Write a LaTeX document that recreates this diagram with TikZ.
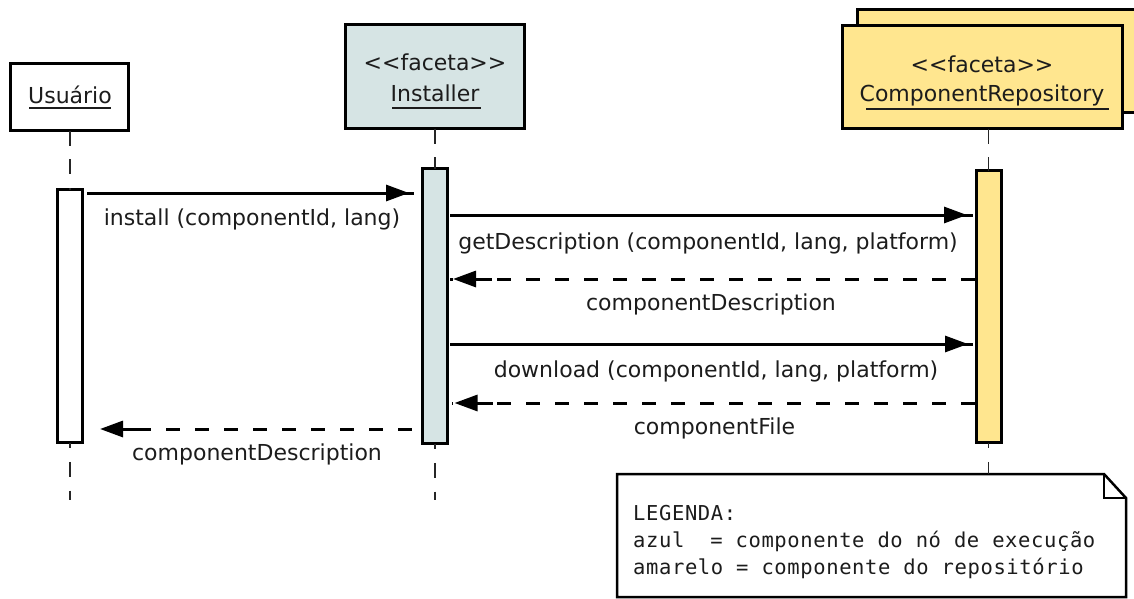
\documentclass[tikz,border=0pt]{standalone}
\usepackage{fontspec}
\newfontfamily\diagfont{DejaVu Sans}
\newfontfamily\legendmono[LetterSpace=3]{DejaVu Sans Mono}
\usetikzlibrary{arrows.meta,calc}

\definecolor{facetblue}{RGB}{214,228,228}
\definecolor{repoyellow}{RGB}{255,230,143}
\definecolor{ink}{RGB}{28,28,28}

\tikzset{
  objbox/.style={draw=black,line width=3pt,outer sep=0pt,inner sep=0pt},
  actbar/.style={draw=black,line width=3pt,minimum width=25pt,outer sep=0pt,inner sep=0pt},
  lifeline/.style={draw=black!85,line width=1.8pt,dash pattern=on 15pt off 13.75pt},
  callline/.style={line width=3pt},
  retline/.style={line width=3pt,dash pattern=on 14pt off 15pt},
  tiphead/.style={line width=3pt,-{Triangle[length=23pt,width=16pt]}},
  lbl/.style={font=\diagfont\fontsize{22}{26}\selectfont,text=ink,inner sep=0pt,anchor=base},
  uline/.style={line width=1.8pt,draw=ink},
  legendtxt/.style={font=\legendmono\fontsize{20.5}{26}\selectfont,text=ink,inner sep=0pt,anchor=base west},
}

\begin{document}
\begin{tikzpicture}[x=1pt,y=-1pt]
\useasboundingbox (0,0) rectangle (1134,599);
\clip (0,0) rectangle (1134,599);

% ---- object headers ----
\node[objbox,fill=white,minimum width=118pt,minimum height=67pt] (boxU) at (69.5,97) {};
\node[objbox,fill=facetblue,minimum width=179pt,minimum height=104pt] (boxI) at (435,76.5) {};
% the stacked back sheet runs past the right edge of the page
\node[objbox,fill=repoyellow,minimum width=400pt,minimum height=103pt] (boxCback) at (1057.5,61) {};
\node[objbox,fill=repoyellow,minimum width=280pt,minimum height=103pt] (boxC) at (982.5,77) {};

\node[lbl] (tU) at (70,103) {Usuário};
\draw[uline] (29,108) -- (111,108);
\node[lbl] (sI) at (435,71) {<<faceta>>};
\node[lbl] (tI) at (435,102) {Installer};
\draw[uline] (392,108) -- (481,108);
\node[lbl] (sC) at (982,73) {<<faceta>>};
\node[lbl] (tC) at (982,102) {ComponentRepository};
\draw[uline] (866,109) -- (1109,109);

% ---- activation bars ----
\node[actbar,fill=white,minimum height=253pt] (actU) at (70,316) {};
\node[actbar,fill=facetblue,minimum height=275pt] (actI) at (435,306) {};
\node[actbar,fill=repoyellow,minimum height=272pt] (actC) at (988.5,306.5) {};

% ---- legend note ----
\node[minimum width=509pt,minimum height=123pt,inner sep=0pt,outer sep=0pt] (legend) at (871.5,535.5) {};
\draw[line width=2.5pt,fill=white]
  (legend.north west) -- ($(legend.north east)+(-22,0)$) -- ($(legend.north east)+(0,24)$)
  -- (legend.south east) -- (legend.south west) -- cycle;
\draw[line width=1.8pt] ($(legend.north east)+(-22,0)$) -- ++(0,24) -- ++(22,0);
\node[legendtxt] (legA) at (633,520) {LEGENDA:};
\node[legendtxt] (legB) at (633,547) {azul\ \ = componente do nó de execução};
\node[legendtxt] (legC) at (633,574) {amarelo = componente do repositório};

% ---- lifelines ----
\draw[lifeline] (actU.north |- boxU.south) -- (actU.north);
\draw[lifeline,dash phase=9.5pt] (actU.south) -- ++(0,57.5);
\draw[lifeline] (actI.north |- boxI.south) -- (actI.north);
\draw[lifeline,dash phase=9.5pt] (actI.south) -- ++(0,56.5);
\draw[lifeline] (actC.north |- boxC.south) -- (actC.north);
\draw[lifeline,dash phase=9.5pt] (actC.south) -- (actC.south |- legend.north);

% ---- messages ----
\coordinate (y1) at (0,193);
\coordinate (y2) at (0,215);
\coordinate (y3) at (0,279);
\coordinate (y4) at (0,344);
\coordinate (y5) at (0,403);
\coordinate (y6) at (0,429);

% install
\draw[callline] ($(actU.east|-y1)+(4.5,0)$) -- ($(actI.west|-y1)+(-8.5,0)$);
\draw[tiphead] ($(actI.west|-y1)+(-45,0)$) -- ($(actI.west|-y1)+(-13.5,0)$);
\node[lbl] (m1) at (252,225) {install (componentId, lang)};

% getDescription
\draw[callline] ($(actI.east|-y2)+(2.5,0)$) -- ($(actC.west|-y2)+(-3,0)$);
\draw[tiphead] ($(actC.west|-y2)+(-45,0)$) -- ($(actC.west|-y2)+(-9,0)$);
\node[lbl] (m2) at (708,249) {getDescription (componentId, lang, platform)};

% componentDescription (reply)
\draw[retline] ($(actC.west|-y3)+(-1.5,0)$) -- ($(actI.east|-y3)+(2.5,0)$);
\draw[tiphead] ($(actI.east|-y3)+(44,0)$) -- ($(actI.east|-y3)+(5.5,0)$);
\node[lbl] (m3) at (711,310) {componentDescription};

% download
\draw[callline] ($(actI.east|-y4)+(2.5,0)$) -- ($(actC.west|-y4)+(-3,0)$);
\draw[tiphead] ($(actC.west|-y4)+(-45,0)$) -- ($(actC.west|-y4)+(-8,0)$);
\node[lbl] (m4) at (716,377) {download (componentId, lang, platform)};

% componentFile (reply)
\draw[retline] ($(actC.west|-y5)+(-1.5,0)$) -- ($(actI.east|-y5)+(4,0)$);
\draw[tiphead] ($(actI.east|-y5)+(45,0)$) -- ($(actI.east|-y5)+(7,0)$);
\node[lbl] (m5) at (714.5,434) {componentFile};

% componentDescription (reply to user)
\draw[retline] ($(actI.west|-y6)+(-11,0)$) -- ($(actU.east|-y6)+(10.5,0)$);
\draw[tiphead] ($(actU.east|-y6)+(56,0)$) -- ($(actU.east|-y6)+(17.5,0)$);
\node[lbl] (m6) at (257,460) {componentDescription};
\end{tikzpicture}
\end{document}
